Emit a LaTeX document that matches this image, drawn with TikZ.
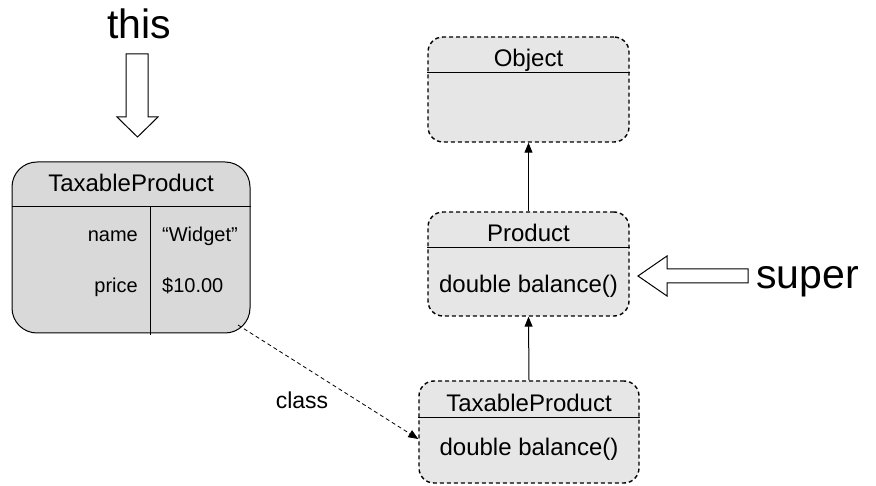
\documentclass[tikz,border=0pt]{standalone}
\usepackage{fontspec}
\setmainfont{Liberation Sans}
\usetikzlibrary{arrows.meta,calc}
\definecolor{instgray}{HTML}{D9D9D9}
\definecolor{clsgray}{HTML}{E6E6E6}

\begin{document}
\begin{tikzpicture}[x=1pt,y=-1pt,
  objbox/.style={draw, line width=1pt, fill=instgray, rounded corners=25pt,
    inner sep=0pt},
  clsbox/.style={draw, line width=1.4pt, dash pattern=on 4pt off 3pt,
    fill=clsgray, rounded corners=15pt, inner sep=0pt},
  txt/.style={font=\fontsize{24}{28}\selectfont, inner sep=0pt, anchor=base},
  small/.style={font=\fontsize{20}{24}\selectfont, inner sep=0pt},
  big/.style={font=\fontsize{41}{48}\selectfont, inner sep=0pt, anchor=base},
  sep/.style={line width=1pt},
  inh/.style={line width=1pt, -{Triangle[length=10pt,width=8pt]}},
  ref/.style={line width=0.8pt, dash pattern=on 4pt off 3pt,
    -{Triangle[length=10pt,width=8pt]}},
  block/.style={line width=1pt, fill=white, line join=miter}
]
\useasboundingbox[fill=white] (0,0) rectangle (876,486);

% instance box
\node[objbox, minimum width=238pt, minimum height=171pt] (inst) at (131,247.5) {};
\draw[sep] (inst.west |- 0,207) -- (inst.east |- 0,207);
\draw[sep] (150,207) -- (150,335);
\node[txt] (instname) at (131,192) {TaxableProduct};
\node[small, anchor=base east] (fname) at (138,242) {name};
\node[small, anchor=base east] (fprice) at (138,293) {price};
\node[small, anchor=base west] (vname) at (162,242) {“Widget”};
\node[small, anchor=base west] (vprice) at (162,293) {\$10.00};

% class boxes
\node[clsbox, minimum width=201pt, minimum height=105pt] (obj) at (528.5,89.5) {};
\draw[sep] (obj.west |- 0,73) -- (obj.east |- 0,73);
\node[txt] (objname) at (528.5,67) {Object};

\node[clsbox, minimum width=201pt, minimum height=104pt] (prod) at (528.5,264) {};
\draw[sep] (prod.west |- 0,248) -- (prod.east |- 0,248);
\node[txt] (prodname) at (528.5,242) {Product};
\node[txt] (prodm) at (528.5,293) {double balance()};

\node[clsbox, minimum width=220pt, minimum height=102pt] (tpr) at (529,432) {};
\draw[sep] (tpr.west |- 0,417) -- (tpr.east |- 0,417);
\node[txt] (tprname) at (529,411) {TaxableProduct};
\node[txt] (tprm) at (529,455) {double balance()};

% inheritance
\draw[inh] (prod.north) -- (obj.south);
\draw[inh] (tpr.north) -- (prod.south);

% class reference
\coordinate (clsfrom) at (238,325);
\draw[ref] (clsfrom) -- ($(tpr.west)+(0,7)$);
\node[txt, font=\fontsize{23}{27}\selectfont] (clslbl) at (302,409) {class};

% this / super pointers
\node[big] (thislbl) at (139,39) {this};
\draw[block] (126,54) -- (148,54) -- (148,117) -- (158,117) -- (137.5,137)
  -- (117,117) -- (126,117) -- cycle;
\node[big, anchor=base west] (superlbl) at (756,289) {super};
\draw[block] (638,276) -- (667,256) -- (667,269) -- (748,269) -- (748,283)
  -- (667,283) -- (667,296) -- cycle;
\end{tikzpicture}
\end{document}
